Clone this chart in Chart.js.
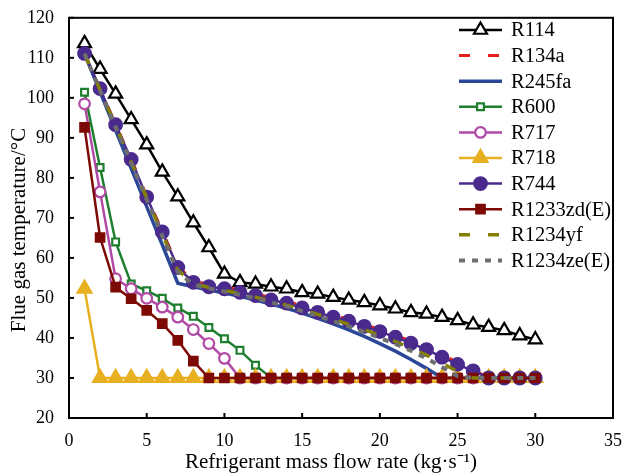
<!DOCTYPE html>
<html>
<head>
<meta charset="utf-8">
<script src="https://cdn.jsdelivr.net/npm/chart.js@4.4.1/dist/chart.umd.min.js"></script>
<style>
  html, body { margin: 0; padding: 0; background: #fff; }
  #wrap { width: 626px; height: 475px; }
</style>
</head>
<body>
<div id="wrap"><canvas id="c" width="626" height="475"></canvas></div>
<script>
// ---- data ----
const flowRates = [1,2,3,4,5,6,7,8,9,10,11,12,13,14,15,16,17,18,19,20,21,22,23,24,25,26,27,28,29,30];
const xTicks = [0,5,10,15,20,25,30,35];
const yTicks = [20,30,40,50,60,70,80,90,100,110,120];
const xTitle = 'Refrigerant mass flow rate (kg·s⁻¹)';
const yTitle = 'Flue gas temperature/°C';

const R114   = [113.6,107.2,101.0,94.6,88.3,81.5,75.3,68.8,62.6,56.0,53.9,53.5,52.8,52.3,51.4,51.0,50.2,49.5,48.9,48.1,47.3,46.4,46.0,45.2,44.4,43.3,42.7,41.9,40.6,39.6];
const R134a  = [111.1,102.3,93.4,84.7,75.4,66.7,57.9,54.3,53.3,52.8,51.9,51.1,50.0,49.2,48.0,46.9,45.7,44.7,43.4,42.1,40.7,39.2,37.6,35.8,33.9,32.0,30,30,30,30];
const R245fa = [111.0,101.5,91.9,82.4,72.8,63.3,53.7,52.8,52.0,51.2,50.4,49.5,48.5,47.4,46.2,44.9,43.5,42.0,40.4,38.6,36.7,34.6,32.4,30,30,30,30,30,30,30];
const R600   = [101.4,82.6,64.0,53.5,51.8,49.9,47.5,45.4,42.6,39.8,36.9,33.2,30,30,30,30,30,30,30,30,30,30,30,30,30,30,30,30,30,30];
const R717   = [98.5,76.5,54.8,52.3,49.9,47.7,45.2,42.1,38.6,34.9,30,30,30,30,30,30,30,30,30,30,30,30,30,30,30,30,30,30,30,30];
const R718   = [52.3,30,30,30,30,30,30,30,30,30,30,30,30,30,30,30,30,30,30,30,30,30,30,30,30,30,30,30,30,30];
const R744   = [111.1,102.3,93.3,84.6,75.2,66.5,57.6,53.9,52.8,52.3,51.4,50.6,49.5,48.7,47.5,46.4,45.2,44.2,42.9,41.6,40.2,38.7,37.1,35.2,33.4,31.8,30,30,30,30];
const R1233zdE = [92.6,65.1,52.7,49.8,46.9,43.6,39.4,34.2,30,30,30,30,30,30,30,30,30,30,30,30,30,30,30,30,30,30,30,30,30,30];
const R1234yf  = [111.0,102.0,93.0,84.0,75.0,66.0,57.0,53.6,52.6,51.9,51.1,50.2,49.2,48.2,47.1,45.9,44.7,43.4,42.1,40.6,39.1,37.5,35.7,33.7,31.6,30,30,30,30,30];
const R1234zeE = [111.0,101.8,92.7,83.7,74.6,65.5,56.5,53.3,52.4,51.6,50.8,49.9,48.9,47.9,46.7,45.5,44.2,42.9,41.5,40.0,38.5,36.8,34.9,32.7,30.5,30,30,30,30,30];

const seriesNames = ["R114","R134a","R245fa","R600","R717","R718","R744","R1233zd(E)","R1234yf","R1234ze(E)"];
const seriesValues = [R114,R134a,R245fa,R600,R717,R718,R744,R1233zdE,R1234yf,R1234zeE];

// ---- styles ----
const FONT = '"Liberation Serif", "Times New Roman", serif';
const styles = [
  {color:'#000000', width:2.5, dash:[],      point:'triangle', radius:7.5, fill:'#ffffff'},
  {color:'#e3201c', width:3,   dash:[11,18], point:false},
  {color:'#2b4898', width:3.5, dash:[],      point:false},
  {color:'#1f7f2f', width:2.5, dash:[],      point:'rect',     radius:4.8, fill:'#ffffff'},
  {color:'#b04aa6', width:2.5, dash:[],      point:'circle',   radius:5.3, fill:'#ffffff'},
  {color:'#e8b020', width:2.5, dash:[],      point:'triangle', radius:8,   fill:'#e8b020'},
  {color:'#4a2a8c', width:2.5, dash:[],      point:'circle',   radius:6.3, fill:'#4a2a8c'},
  {color:'#7d0a04', width:2.5, dash:[],      point:'rect',     radius:6,   fill:'#7d0a04'},
  {color:'#858000', width:3.5, dash:[11,18], point:false},
  {color:'#6e6e6e', width:4,   dash:[6,7],   point:false}
];

const datasets = seriesNames.map((name, i) => {
  const s = styles[i];
  return {
    label: name,
    data: flowRates.map((x, k) => ({x: x, y: seriesValues[i][k]})),
    borderColor: s.color,
    backgroundColor: s.fill || s.color,
    borderWidth: s.width,
    borderDash: s.dash,
    pointStyle: s.point || 'circle',
    pointRadius: s.point ? s.radius : 0,
    pointBorderWidth: 2.2,
    pointBorderColor: s.color,
    pointBackgroundColor: s.fill || s.color,
    tension: 0,
    order: seriesNames.length - i
  };
});

const framePlugin = {
  id: 'frameTicks',
  afterDraw(chart) {
    const ctx = chart.ctx, a = chart.chartArea;
    const xs = chart.scales.x, ys = chart.scales.y;
    ctx.save();
    ctx.strokeStyle = '#000'; ctx.lineWidth = 2; ctx.setLineDash([]);
    ctx.strokeRect(a.left, a.top, a.right - a.left, a.bottom - a.top);
    xTicks.forEach(v => {
      const p = xs.getPixelForValue(v);
      ctx.beginPath(); ctx.moveTo(p, a.bottom); ctx.lineTo(p, a.bottom - 5); ctx.stroke();
    });
    yTicks.forEach(v => {
      const p = ys.getPixelForValue(v);
      ctx.beginPath(); ctx.moveTo(a.left, p); ctx.lineTo(a.left + 5, p); ctx.stroke();
    });
    // axis titles
    ctx.fillStyle = '#000';
    ctx.font = '21px ' + FONT;
    ctx.textAlign = 'center'; ctx.textBaseline = 'middle';
    ctx.fillText(xTitle, 331, 462);
    ctx.save();
    ctx.translate(19, 230); ctx.rotate(-Math.PI / 2);
    ctx.fillText(yTitle, 0, 0);
    ctx.restore();
    // legend
    const lx0 = 459, lx1 = 502, tx = 511, ly0 = 30, dy = 25.6;
    ctx.font = '20.5px ' + FONT;
    ctx.textAlign = 'left'; ctx.textBaseline = 'middle';
    chart.data.datasets.forEach((ds, i) => {
      const s = styles[i];
      const y = ly0 + i * dy;
      ctx.save();
      ctx.strokeStyle = s.color; ctx.lineWidth = s.width; ctx.setLineDash(s.dash);
      ctx.beginPath(); ctx.moveTo(lx0, y); ctx.lineTo(lx1, y); ctx.stroke();
      ctx.restore();
      if (s.point) {
        ctx.save();
        ctx.strokeStyle = s.color; ctx.fillStyle = s.fill; ctx.lineWidth = 2.2; ctx.setLineDash([]);
        Chart.helpers.drawPoint(ctx, {pointStyle: s.point, radius: s.radius, borderWidth: 2.2, rotation: 0}, (lx0 + lx1) / 2, y);
        ctx.restore();
      }
      ctx.fillStyle = '#000';
      ctx.fillText(ds.label, tx, y + 1);
    });
    ctx.restore();
  }
};

new Chart(document.getElementById('c'), {
  type: 'line',
  data: { datasets },
  options: {
    responsive: false,
    animation: false,
    layout: { padding: { top: 16, right: 6, left: 0, bottom: 0 } },
    plugins: { legend: { display: false }, tooltip: { enabled: false } },
    scales: {
      x: {
        type: 'linear', min: 0, max: 35,
        afterBuildTicks(s) { s.ticks = xTicks.map(v => ({value: v})); },
        grid: { display: false }, border: { display: false },
        ticks: { color: '#000', font: { family: FONT, size: 18 }, padding: 4, maxRotation: 0 },
        title: { display: false },
        afterFit(s) { s.height = 57; }
      },
      y: {
        type: 'linear', min: 20, max: 120,
        afterBuildTicks(s) { s.ticks = yTicks.map(v => ({value: v})); },
        grid: { display: false }, border: { display: false },
        ticks: { color: '#000', font: { family: FONT, size: 18 }, padding: 7 },
        title: { display: false },
        afterFit(s) { s.width = 69; }
      }
    }
  },
  plugins: [framePlugin]
});
</script>
</body>
</html>
